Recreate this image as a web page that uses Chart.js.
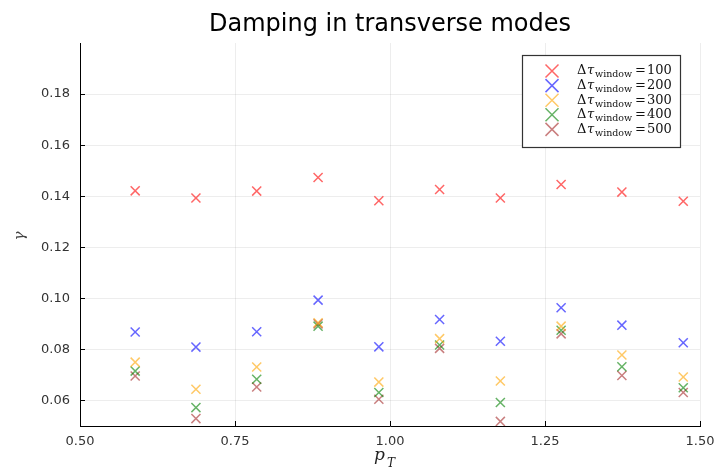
<!DOCTYPE html>
<html>
<head>
<meta charset="utf-8">
<script src="https://cdn.jsdelivr.net/npm/chart.js@4"></script>
<style>
  html, body { margin: 0; padding: 0; background: #fff; }
  #wrap { width: 714px; height: 473px; }
</style>
</head>
<body>
<div id="wrap"><canvas id="damping" width="714" height="473"></canvas></div>
<script>
// --- DATA ---
const pT = [0.589, 0.687, 0.785, 0.884, 0.982, 1.080, 1.178, 1.276, 1.374, 1.473];
const windows = [100, 200, 300, 400, 500];
const gamma100 = [0.1421, 0.1393, 0.1420, 0.1473, 0.1382, 0.1426, 0.1393, 0.1446, 0.1416, 0.1380];
const gamma200 = [0.0868, 0.0809, 0.0869, 0.0993, 0.0810, 0.0917, 0.0832, 0.0963, 0.0895, 0.0826];
const gamma300 = [0.0750, 0.0644, 0.0731, 0.0904, 0.0672, 0.0842, 0.0676, 0.0891, 0.0778, 0.0692];
const gamma400 = [0.0715, 0.0572, 0.0683, 0.0891, 0.0631, 0.0817, 0.0592, 0.0875, 0.0732, 0.0650];
const gamma500 = [0.0696, 0.0529, 0.0653, 0.0900, 0.0605, 0.0804, 0.0518, 0.0861, 0.0698, 0.0631];
const xTicks = [0.50, 0.75, 1.00, 1.25, 1.50];
const yTicks = [0.06, 0.08, 0.10, 0.12, 0.14, 0.16, 0.18];

const series = [gamma100, gamma200, gamma300, gamma400, gamma500];
const colors = ['rgba(255,0,0,0.6)', 'rgba(0,0,255,0.6)', 'rgba(255,165,0,0.6)',
                'rgba(0,128,0,0.6)', 'rgba(165,42,42,0.6)'];

const datasets = series.map((ys, i) => ({
    label: 'Δτ window = ' + windows[i],
    data: ys.map((y, j) => ({ x: pT[j], y: y })),
    pointStyle: 'crossRot',
    pointRadius: 6.4,
    pointHoverRadius: 6.4,
    borderColor: colors[i],
    backgroundColor: colors[i],
    pointBorderWidth: 1.5,
    showLine: false
}));

// title, inward tick marks, math-style axis labels and legend
const decorations = {
    id: 'decorations',
    afterDraw(chart) {
        const ctx = chart.ctx;
        const a = chart.chartArea;
        const xs = chart.scales.x, ys = chart.scales.y;
        ctx.save();

        // inward ticks
        ctx.strokeStyle = '#000';
        ctx.lineWidth = 1;
        ctx.beginPath();
        xTicks.forEach(v => {
            const px = Math.round(xs.getPixelForValue(v)) + 0.5;
            ctx.moveTo(px, a.bottom); ctx.lineTo(px, a.bottom - 5);
        });
        yTicks.forEach(v => {
            const py = Math.round(ys.getPixelForValue(v)) + 0.5;
            ctx.moveTo(a.left, py); ctx.lineTo(a.left + 5, py);
        });
        ctx.stroke();

        // title
        ctx.fillStyle = '#000';
        ctx.font = '24px "DejaVu Sans"';
        ctx.textAlign = 'center';
        ctx.textBaseline = 'alphabetic';
        ctx.fillText('Damping in transverse modes', 390, 31);

        // x label: p_T
        ctx.fillStyle = '#222';
        ctx.font = 'italic 17px "DejaVu Serif"';
        ctx.textAlign = 'left';
        ctx.fillText('p', 374, 460);
        ctx.font = 'italic 12px "DejaVu Serif"';
        ctx.fillText('T', 387, 467);

        // y label: gamma
        ctx.save();
        ctx.translate(20, 236);
        ctx.rotate(-Math.PI / 2);
        ctx.fillStyle = '#444';
        ctx.font = 'italic 15px "DejaVu Serif"';
        ctx.textAlign = 'center';
        ctx.textBaseline = 'middle';
        ctx.fillText('γ', 0, 0);
        ctx.restore();

        // legend
        const lx = 522.5, ly = 55.5, lw = 158, lh = 92;
        ctx.fillStyle = '#fff';
        ctx.fillRect(lx, ly, lw, lh);
        ctx.strokeStyle = '#333';
        ctx.lineWidth = 1.2;
        ctx.strokeRect(lx, ly, lw, lh);
        windows.forEach((w, i) => {
            const rowY = 71 + i * 14.6;
            const mx = 552, r = 6.5;
            ctx.strokeStyle = colors[i];
            ctx.lineWidth = 1.5;
            ctx.beginPath();
            ctx.moveTo(mx - r, rowY - r); ctx.lineTo(mx + r, rowY + r);
            ctx.moveTo(mx + r, rowY - r); ctx.lineTo(mx - r, rowY + r);
            ctx.stroke();

            ctx.fillStyle = '#111';
            ctx.textBaseline = 'middle';
            ctx.textAlign = 'left';
            ctx.font = '13px "DejaVu Serif"';
            ctx.fillText('Δ', 577, rowY);
            ctx.font = 'italic 13px "DejaVu Serif"';
            ctx.fillText('τ', 587, rowY);
            ctx.font = '9.5px "DejaVu Serif"';
            ctx.fillText('window', 595, rowY + 4);
            ctx.font = '13px "DejaVu Serif"';
            ctx.fillText('=', 635, rowY);
            ctx.fillText(String(w), 647, rowY);
        });
        ctx.restore();
    }
};

new Chart(document.getElementById('damping'), {
    type: 'scatter',
    data: { datasets: datasets },
    options: {
        responsive: false,
        animation: false,
        layout: { padding: { top: 43, right: 14, left: 0, bottom: 0 } },
        plugins: {
            legend: { display: false },
            tooltip: { enabled: false }
        },
        scales: {
            x: {
                type: 'linear',
                min: 0.5,
                max: 1.5,
                afterBuildTicks: s => { s.ticks = xTicks.map(v => ({ value: v })); },
                afterFit: s => { s.height = 47; s.paddingLeft = 0; s.paddingRight = 0; },
                ticks: {
                    padding: 8,
                    color: '#333',
                    font: { family: 'DejaVu Sans', size: 13 },
                    callback: v => v.toFixed(2)
                },
                grid: { color: 'rgba(0,0,0,0.07)', drawTicks: false },
                border: { display: true, color: '#000', width: 1 }
            },
            y: {
                type: 'linear',
                min: 0.05,
                max: 0.2,
                afterBuildTicks: s => { s.ticks = yTicks.map(v => ({ value: v })); },
                afterFit: s => { s.width = 80; },
                ticks: {
                    padding: 10,
                    color: '#333',
                    font: { family: 'DejaVu Sans', size: 13 },
                    callback: v => v.toFixed(2)
                },
                grid: { color: 'rgba(0,0,0,0.07)', drawTicks: false },
                border: { display: true, color: '#000', width: 1 }
            }
        }
    },
    plugins: [decorations]
});
</script>
</body>
</html>
